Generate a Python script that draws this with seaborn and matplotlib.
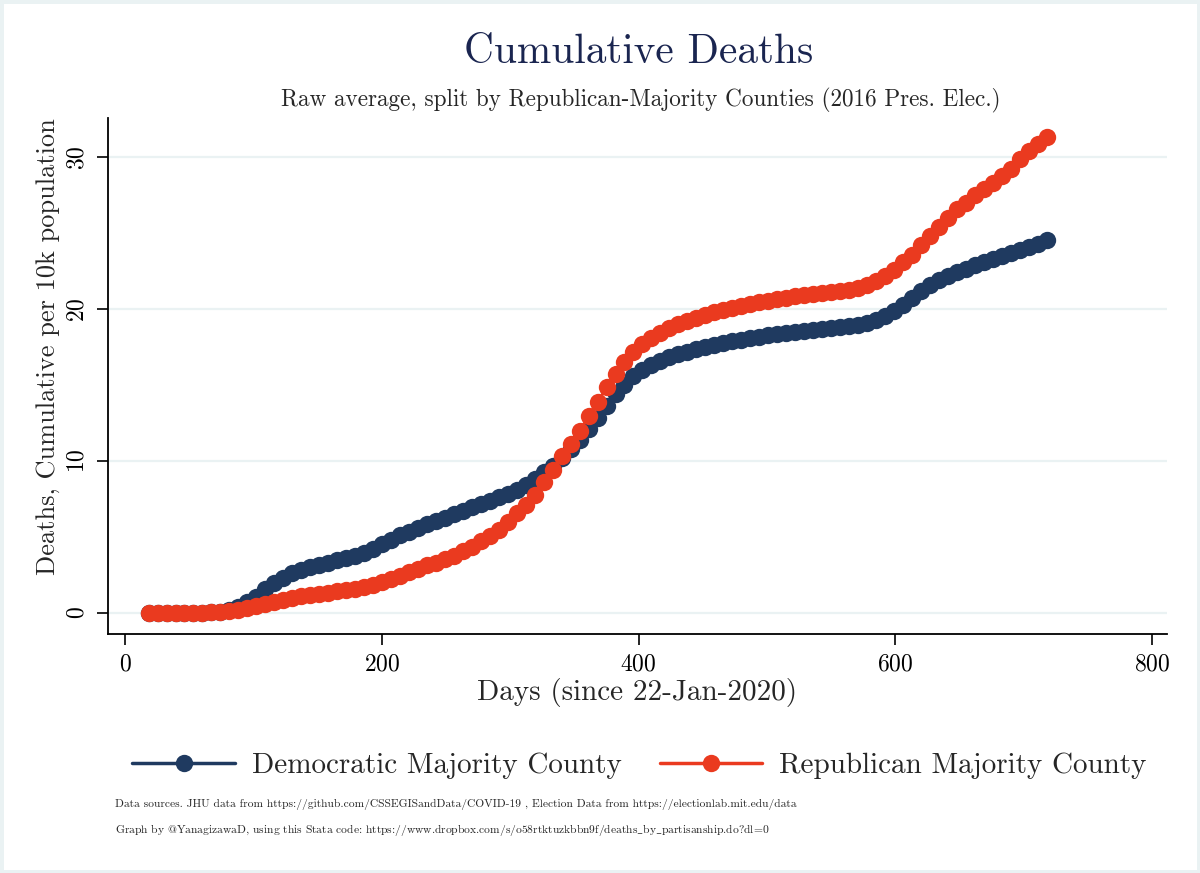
import numpy as np
import pandas as pd
import matplotlib
matplotlib.use("Agg")
import matplotlib.pyplot as plt
import seaborn as sns
from matplotlib.lines import Line2D
from matplotlib.patches import Rectangle

# Data: weekly points, days since 22-Jan-2020
days = list(range(18, 719, 7))

dem_deaths = [
    0.0, 0.0, 0.0, 0.0, 0.0, 0.0, 0.0, 0.02, 0.08,
    0.2, 0.4, 0.7, 1.05, 1.55, 1.95, 2.3, 2.6, 2.8, 3.0,
    3.15, 3.3, 3.45, 3.6, 3.75, 3.95, 4.2, 4.5, 4.8, 5.1,
    5.35, 5.6, 5.85, 6.05, 6.25, 6.5, 6.7, 6.95, 7.15, 7.35,
    7.6, 7.85, 8.1, 8.4, 8.8, 9.25, 9.7, 10.2, 10.8, 11.4,
    12.1, 12.8, 13.6, 14.4, 15.0, 15.6, 16.0, 16.35, 16.6, 16.85,
    17.05, 17.2, 17.35, 17.5, 17.65, 17.78, 17.9, 18.0, 18.1, 18.2,
    18.3, 18.38, 18.45, 18.52, 18.58, 18.65, 18.7, 18.75, 18.8, 18.87,
    18.95, 19.1, 19.3, 19.55, 19.9, 20.3, 20.75, 21.2, 21.6, 21.95,
    22.2, 22.45, 22.65, 22.9, 23.1, 23.3, 23.5, 23.7, 23.9, 24.1,
    24.3, 24.55,
]

rep_deaths = [
    0.0, 0.0, 0.0, 0.0, 0.0, 0.0, 0.0, 0.02, 0.05,
    0.12, 0.2, 0.32, 0.45, 0.6, 0.72, 0.84, 0.95, 1.07, 1.16,
    1.24, 1.32, 1.4, 1.48, 1.56, 1.68, 1.85, 2.02, 2.2, 2.45,
    2.67, 2.9, 3.12, 3.3, 3.52, 3.75, 4.05, 4.35, 4.7, 5.05,
    5.45, 6.0, 6.6, 7.1, 7.75, 8.6, 9.4, 10.3, 11.1, 12.0,
    12.95, 13.9, 14.85, 15.75, 16.5, 17.2, 17.7, 18.1, 18.45, 18.75,
    19.05, 19.25, 19.45, 19.65, 19.8, 19.95, 20.1, 20.2, 20.35, 20.45,
    20.55, 20.65, 20.75, 20.85, 20.95, 21.0, 21.05, 21.15, 21.2, 21.3,
    21.4, 21.6, 21.85, 22.2, 22.6, 23.1, 23.6, 24.2, 24.85, 25.45,
    26.0, 26.6, 27.0, 27.5, 27.95, 28.35, 28.75, 29.25, 29.9, 30.4,
    30.9, 31.35,
]

groups = ["Democratic Majority County", "Republican Majority County"]
colors = ["#1f3a60", "#ea3a1f"]

df = pd.DataFrame({
    "day": days * 2,
    "deaths": dem_deaths + rep_deaths,
    "group": [groups[0]] * len(days) + [groups[1]] * len(days),
})

sns.set_style("white")
plt.rcParams["font.family"] = ["cmr10", "DejaVu Serif"]
plt.rcParams["mathtext.fontset"] = "cm"
plt.rcParams["axes.formatter.use_mathtext"] = True

fig = plt.figure(figsize=(12, 8.73), dpi=100)
ax = fig.add_axes([0.0896, 0.2738, 0.883, 0.591])

sns.lineplot(data=df, x="day", y="deaths", hue="group", palette=colors,
             marker="o", markersize=12.5, markeredgewidth=0, linewidth=2,
             legend=False, ax=ax)

ax.set_xlim(-14, 812)
ax.set_ylim(-1.4, 32.6)
ax.set_xticks([0, 200, 400, 600, 800])
ax.set_yticks([0, 10, 20, 30])
ax.yaxis.grid(True, color="#eaf2f3", linewidth=1.6)
ax.xaxis.grid(False)
ax.set_axisbelow(True)
sns.despine(ax=ax)
for s in ["left", "bottom"]:
    ax.spines[s].set_color("black")
    ax.spines[s].set_linewidth(1.3)
ax.tick_params(axis="both", direction="out", length=8, width=1.2,
               bottom=True, left=True, colors="black", labelsize=17, pad=6)
plt.setp(ax.get_yticklabels(), rotation=90, va="center")

ax.set_xlabel("Days (since 22-Jan-2020)", fontsize=21, labelpad=2)
ax.set_ylabel("Deaths, Cumulative per 10k population", fontsize=19)
ax.yaxis.set_label_coords(-0.045, 0.556)

fig.text(0.5325, 0.94, "Cumulative Deaths", ha="center", va="center",
         fontsize=29.7, color="#1a2550")
fig.text(0.534, 0.885,
         "Raw average, split by Republican-Majority Counties (2016 Pres. Elec.)",
         ha="center", va="center", fontsize=16.7)

handles = [Line2D([0], [0], color=c, linewidth=2.5, marker="o", markersize=12.5,
                  markeredgewidth=0) for c in colors]
fig.legend(handles, groups, loc="center", bbox_to_anchor=(0.533, 0.123),
           ncol=2, frameon=False, fontsize=21, handlelength=3.5,
           handletextpad=0.6, columnspacing=1.3)

fig.text(0.096, 0.078,
         "Data sources. JHU data from https://github.com/CSSEGISandData/COVID-19 , "
         "Election Data from https://electionlab.mit.edu/data",
         ha="left", va="center", fontsize=8.3)
fig.text(0.096, 0.049,
         "Graph by @YanagizawaD, using this Stata code: "
         r"https://www.dropbox.com/s/o58rtktuzkbbn9f/deaths$\_$by$\_$partisanship.do?dl=0",
         ha="left", va="center", fontsize=8.3)

fig.patches.append(Rectangle((0, 0), 1, 1, transform=fig.transFigure,
                             fill=False, edgecolor="#eaf2f3", linewidth=5))

fig.savefig("out.png", dpi=100)
